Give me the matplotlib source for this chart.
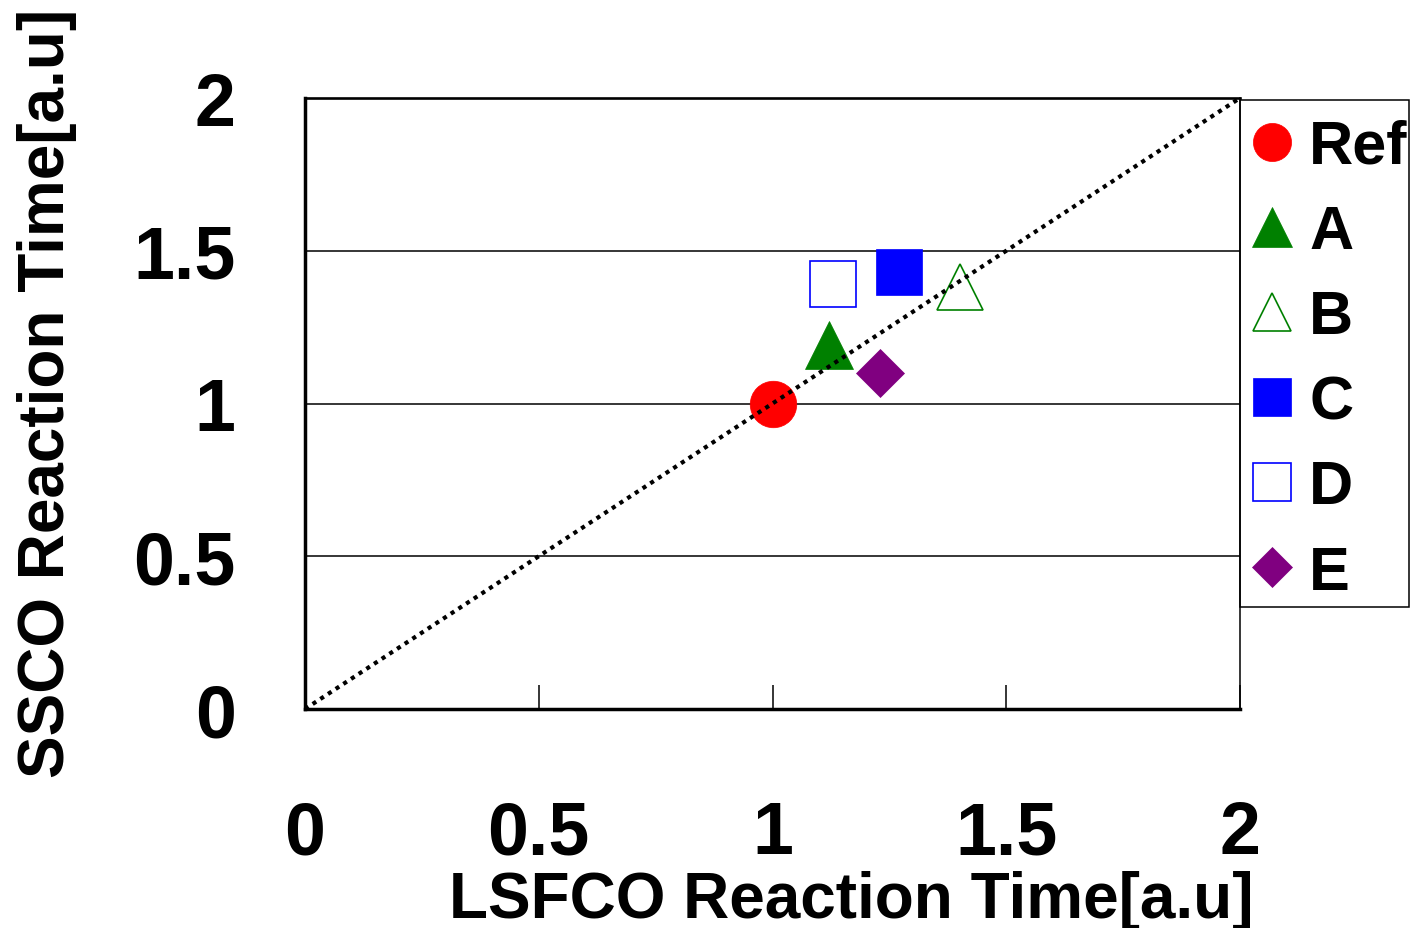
import matplotlib
matplotlib.use("Agg")
import matplotlib.pyplot as plt
from matplotlib.patches import Rectangle

plt.rcParams['font.family'] = ['Liberation Sans', 'DejaVu Sans']
plt.rcParams['font.weight'] = 'bold'

# data
labels = ['Ref', 'A', 'B', 'C', 'D', 'E']
lsfco = [1.00, 1.12, 1.40, 1.27, 1.13, 1.23]
ssco = [1.00, 1.19, 1.38, 1.43, 1.39, 1.10]
markers = ['o', '^', '^', 's', 's', 'D']
colors = ['#FF0000', '#008000', '#008000', '#0000FF', '#0000FF', '#800080']
filled = [True, True, False, True, False, True]
diag = [0, 2]
xticks = [0, 0.5, 1, 1.5, 2]
yticks = [0, 0.5, 1, 1.5, 2]
ytick_labels = ['0', '0.5', '1', '1.5', '2']
xtick_labels = ['0', '0.5', '1', '1.5', '2']

msizes = {'o': 33.5, '^': 34.5, 's': 33.5, 'D': 24.5}

fig = plt.figure(figsize=(14.12, 9.29), dpi=100)
ax = fig.add_axes([305/1412, 1-710/929, 935/1412, 611/929])

handles = []
for lab, x, y, m, c, f in zip(labels, lsfco, ssco, markers, colors, filled):
    ms = msizes[m]
    if f:
        h, = ax.plot([x], [y], linestyle='none', marker=m, markersize=ms,
                     markerfacecolor=c, markeredgecolor=c, markeredgewidth=0.5,
                     label=lab, zorder=3)
    else:
        h, = ax.plot([x], [y], linestyle='none', marker=m, markersize=ms - 1,
                     markerfacecolor='white', markeredgecolor=c, markeredgewidth=1.2,
                     label=lab, zorder=3)
    handles.append(h)

ax.plot(diag, diag, color='black', linewidth=3, linestyle=(0, (1, 1.2)),
        dash_capstyle='butt', zorder=4)

ax.set_xlim(0, 2)
ax.set_ylim(0, 2)
ax.set_xticks(xticks)
ax.set_xticklabels(xtick_labels)
ax.set_yticks(yticks)
ax.set_yticklabels(ytick_labels)

ax.yaxis.grid(True, color='black', linewidth=1.1)
ax.set_axisbelow(True)

ax.tick_params(axis='x', direction='in', length=17, width=1.1, pad=65,
               labelsize=53, top=False)
ax.tick_params(axis='y', length=0, pad=50, labelsize=53)
for t in ax.get_xticklabels() + ax.get_yticklabels():
    t.set_fontweight('bold')

ax.spines['left'].set_linewidth(2.5)
ax.spines['bottom'].set_linewidth(2.5)
ax.spines['top'].set_linewidth(1.9)
ax.spines['right'].set_linewidth(1.1)

ax.set_xlabel('LSFCO Reaction Time[a.u]', fontsize=46, fontweight='bold',
              va='baseline', ha='center')
ax.xaxis.set_label_coords(0.584, (710-918)/611)
ax.set_ylabel('SSCO Reaction Time[a.u]', fontsize=46, fontweight='bold',
              va='baseline', ha='center', rotation=90, rotation_mode='anchor')
ax.yaxis.set_label_coords((64-305)/935, (710-393)/611)

leg = fig.legend(handles=handles, loc='upper left',
                 bbox_to_anchor=(1240/1412, 1-112/929),
                 bbox_transform=fig.transFigure,
                 markerscale=0.82, frameon=False,
                 borderpad=0.13, labelspacing=0.46, handlelength=0.8,
                 handletextpad=0.2, borderaxespad=0,
                 prop={'weight': 'bold', 'size': 44})

frame = Rectangle((1240/1412, 1-608/929), 169/1412, 507.3/929,
                  transform=fig.transFigure, fill=False, edgecolor='black',
                  linewidth=1.1, zorder=5)
fig.patches.append(frame)

fig.savefig('out.png', dpi=100)
